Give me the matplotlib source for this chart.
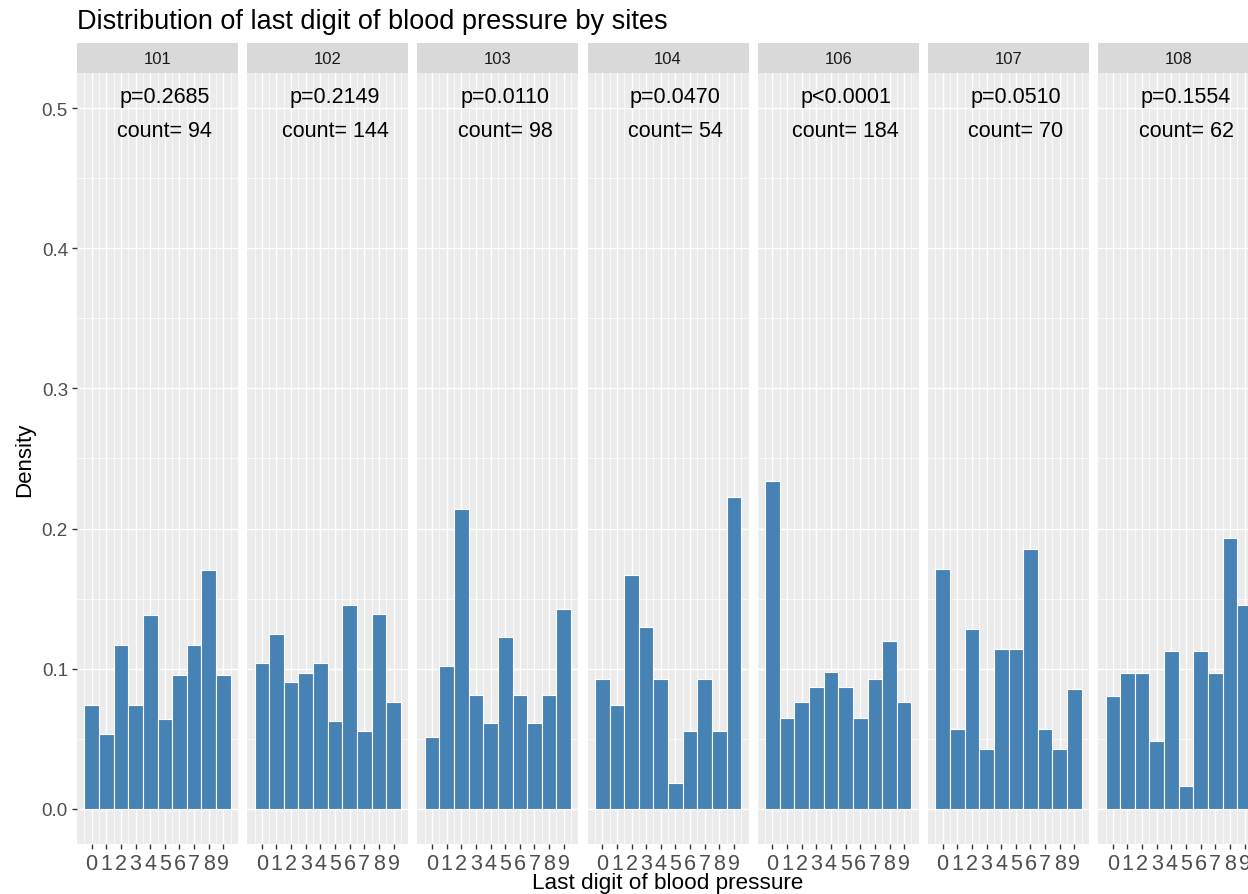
import numpy as np
import matplotlib
matplotlib.use("Agg")
import matplotlib.pyplot as plt

plt.rcParams["font.family"] = ["Liberation Sans", "DejaVu Sans"]

# last-digit counts per site
sites = ["101", "102", "103", "104", "106", "107", "108"]
digits = list(range(10))
counts_101 = [7, 5, 11, 7, 13, 6, 9, 11, 16, 9]
counts_102 = [15, 18, 13, 14, 15, 9, 21, 8, 20, 11]
counts_103 = [5, 10, 21, 8, 6, 12, 8, 6, 8, 14]
counts_104 = [5, 4, 9, 7, 5, 1, 3, 5, 3, 12]
counts_106 = [43, 12, 14, 16, 18, 16, 12, 17, 22, 14]
counts_107 = [12, 4, 9, 3, 8, 8, 13, 4, 3, 6]
counts_108 = [5, 6, 6, 3, 7, 1, 7, 6, 12, 9]
p_labels = ["p=0.2685", "p=0.2149", "p=0.0110", "p=0.0470", "p<0.0001", "p=0.0510", "p=0.1554"]

all_counts = [counts_101, counts_102, counts_103, counts_104, counts_106, counts_107, counts_108]

W, H = 1248, 895
fig = plt.figure(figsize=(W / 100, H / 100), dpi=100)

panel_x0 = 77
panel_w = 161
panel_step = 170.2
panel_top = 74
panel_bot = 845
strip_top = 44

bar_color = "#4682B4"
panel_bg = "#EBEBEB"
strip_bg = "#D9D9D9"
tick_col = "#4D4D4D"

for i, (site, cnt, plab) in enumerate(zip(sites, all_counts, p_labels)):
    x0 = panel_x0 + i * panel_step
    ax = fig.add_axes([x0 / W, 1 - panel_bot / H, panel_w / W, (panel_bot - panel_top) / H])
    ax.set_facecolor(panel_bg)
    cnt = np.array(cnt)
    total = cnt.sum()
    dens = cnt / total
    ax.bar(digits, dens, width=1.0, color=bar_color, edgecolor="white", linewidth=0.8, zorder=3)
    ax.set_xlim(-1, 10)
    ax.set_ylim(-0.025, 0.525)

    # grid: majors at digits / 0.1, minors halfway
    ax.set_xticks(digits)
    ax.set_xticks(np.arange(-0.5, 10, 1), minor=True)
    ax.set_yticks(np.arange(0, 0.51, 0.1))
    ax.set_yticks(np.arange(0.05, 0.51, 0.1), minor=True)
    ax.grid(which="major", color="white", linewidth=1.0, zorder=0)
    ax.grid(which="minor", color="white", linewidth=0.5, zorder=0)
    ax.set_axisbelow(True)
    for s in ax.spines.values():
        s.set_visible(False)

    ax.tick_params(axis="x", which="major", length=3.5, width=1.0, color="#333333",
                   labelsize=15.5, labelcolor=tick_col, pad=3)
    ax.tick_params(axis="both", which="minor", length=0)
    if i == 0:
        ax.set_yticklabels([f"{v:.1f}" for v in np.arange(0, 0.51, 0.1)])
        ax.tick_params(axis="y", which="major", length=3.5, width=1.0, color="#333333",
                       labelsize=13.5, labelcolor=tick_col, pad=3)
    else:
        ax.tick_params(axis="y", which="major", length=0, labelleft=False)

    ax.text(5, 0.508, plab, ha="center", va="center", fontsize=15.5, color="black")
    ax.text(5, 0.484, f"count= {total}", ha="center", va="center", fontsize=15.5, color="black")

    # facet strip
    sax = fig.add_axes([x0 / W, 1 - panel_top / H, panel_w / W, (panel_top - strip_top) / H])
    sax.set_facecolor(strip_bg)
    sax.set_xticks([])
    sax.set_yticks([])
    for s in sax.spines.values():
        s.set_visible(False)
    sax.text(0.5, 0.5, site, ha="center", va="center", fontsize=12, color="#1A1A1A",
             transform=sax.transAxes)

fig.text(77 / W, 1 - 29 / H, "Distribution of last digit of blood pressure by sites",
         ha="left", va="baseline", fontsize=19.5, color="black")
fig.text(668 / W, 1 - 884 / H, "Last digit of blood pressure", ha="center", va="center",
         fontsize=16.2, color="black")
fig.text(25 / W, 1 - 460 / H, "Density", ha="center", va="center", rotation=90,
         fontsize=16, color="black")

fig.savefig("out.png", dpi=100)
